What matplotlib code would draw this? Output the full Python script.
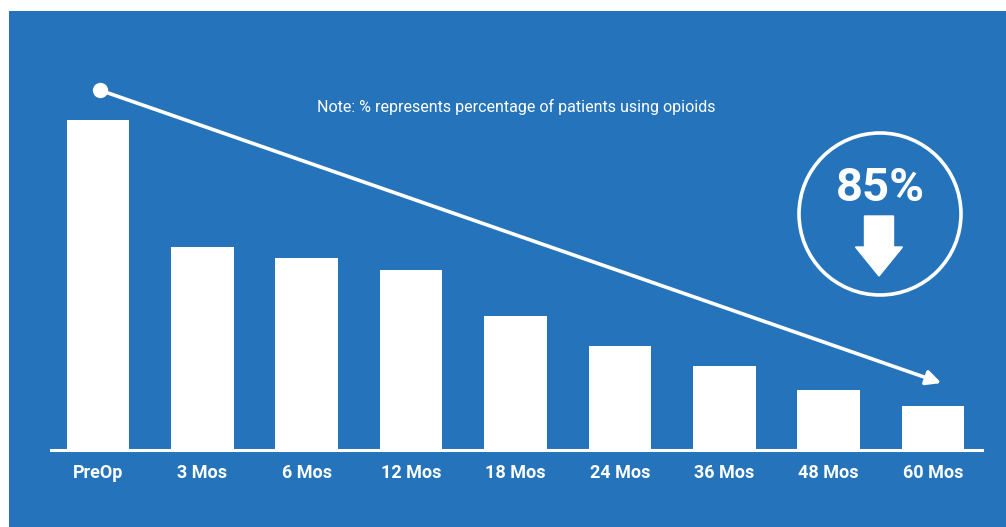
import numpy as np
import matplotlib
matplotlib.use("Agg")
import matplotlib.pyplot as plt
from matplotlib.patches import Rectangle, Circle, FancyArrow

# Data (PreOp scaled to 100)
labels = ["PreOp", "3 Mos", "6 Mos", "12 Mos", "18 Mos", "24 Mos", "36 Mos", "48 Mos", "60 Mos"]
values = [100, 61.5, 58.2, 54.5, 40.6, 31.5, 25.5, 18.2, 13.3]
note = "Note: % represents percentage of patients using opioids"
drop_label = "85%"

blue = "#2574BB"
W, H = 1006, 527

fig = plt.figure(figsize=(W / 100, H / 100), dpi=100)
fig.patch.set_facecolor("white")
# the blue panel, behind everything
fig.patches.append(Rectangle((9 / W, 0), 1 - 9 / W, 1 - 11 / H, transform=fig.transFigure,
                             facecolor=blue, edgecolor="none", zorder=-5))

# axes placed so baseline sits at y=450 px and spans x 51..982 px
ax = fig.add_axes([51 / W, (H - 450) / H, (982 - 51) / W, (450 - 11) / H])
ax.set_facecolor("none")
x = np.arange(len(labels))
ax.bar(x, values, width=0.6, color="white", zorder=2)
ax.set_xlim(-0.45, 8.47)
ax.set_ylim(0, 133)

for s in ["top", "right", "left"]:
    ax.spines[s].set_visible(False)
ax.spines["bottom"].set_color("white")
ax.spines["bottom"].set_linewidth(2.2)
ax.set_yticks([])
ax.set_xticks(x)
ax.set_xticklabels(labels, fontfamily="Roboto", fontweight="bold", fontsize=13, color="white")
ax.tick_params(axis="x", length=0, pad=10)

# trend arrow
ax.annotate("", xy=(8.08, 20.3), xytext=(0.02, 109),
            arrowprops=dict(arrowstyle="-|>", color="white", lw=2.6, mutation_scale=22,
                            shrinkA=0, shrinkB=0), zorder=3)
ax.plot([0.02], [109], "o", color="white", markersize=10, zorder=4, clip_on=False)

ax.text(0.5, (450 - 107) / (450 - 11), note, transform=ax.transAxes, ha="center", va="center",
        fontfamily="Roboto", fontsize=11.5, color="white")

# circle badge with 85% and down arrow (pixel coordinates)
circ = Circle((880, H - 214), 81, transform=None, facecolor="none", edgecolor="white",
              linewidth=2.6, zorder=5)
fig.patches.append(circ)
fig.text(880 / W, (H - 188) / H, drop_label, ha="center", va="center", fontfamily="Roboto",
         fontweight="bold", fontsize=34, color="white")
arr = FancyArrow(879, H - 216, 0, -60, width=29, head_width=47, head_length=29,
                 length_includes_head=True, transform=None, color="white", zorder=5)
fig.patches.append(arr)

fig.savefig("out.png", dpi=100, facecolor=fig.get_facecolor())
